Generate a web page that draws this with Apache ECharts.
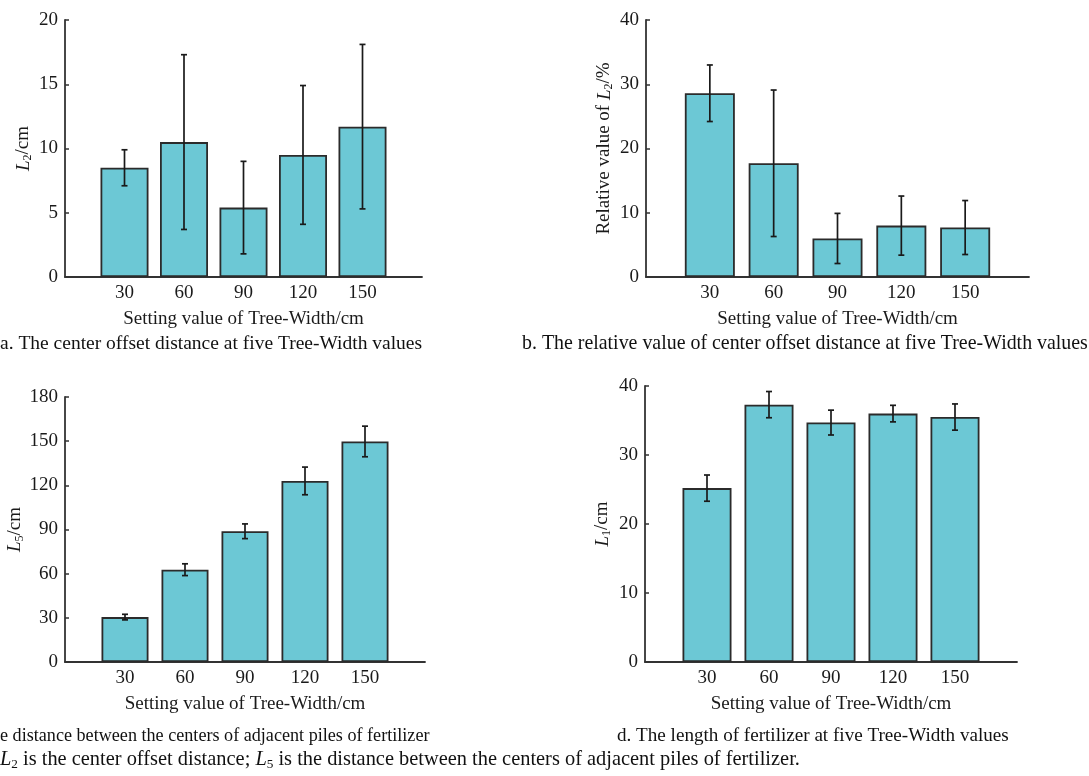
<!DOCTYPE html>
<html>
<head>
<meta charset="utf-8">
<script src="https://cdn.jsdelivr.net/npm/echarts@6/dist/echarts.min.js"></script>
<style>
  html, body { margin: 0; padding: 0; background: #fff; }
  #chart { width: 1089px; height: 776px; }
</style>
</head>
<body>
<div id="chart"></div>
<script>
// Tree-Width setting values (cm)
var treeWidth = [30, 60, 90, 120, 150]
// a. center offset distance L2 (cm)
var l2Mean = [8.5, 10.5, 5.4, 9.5, 11.7]
var l2Err = [1.4, 6.8, 3.6, 5.4, 6.4]
// b. relative value of L2 (%)
var relMean = [28.6, 17.7, 6.0, 8.0, 7.7]
var relErr = [4.4, 11.4, 3.9, 4.6, 4.2]
// c. distance between centers of adjacent piles L5 (cm)
var l5Mean = [30.5, 62.7, 88.8, 123, 149.8]
var l5Err = [1.9, 4.0, 5.0, 9.4, 10.4]
// d. length of fertilizer L1 (cm)
var l1Mean = [25.2, 37.3, 34.7, 36.0, 35.5]
var l1Err = [1.9, 1.9, 1.8, 1.2, 1.9]

var FONT = 'Liberation Serif'
var INK = '#1a1a1a'
var BAR = '#6cc8d5'

function barData (means) {
  return treeWidth.map(function (x, i) { return [x, means[i]] })
}
function errData (means, errs) {
  return treeWidth.map(function (x, i) { return [x, means[i] - errs[i], means[i] + errs[i]] })
}

function renderError (params, api) {
  var x = api.value(0)
  var lo = api.coord([x, api.value(1)])
  var hi = api.coord([x, api.value(2)])
  var hw = 3
  var st = { stroke: INK, lineWidth: 1.7 }
  return {
    type: 'group',
    children: [
      { type: 'line', shape: { x1: lo[0], y1: lo[1], x2: hi[0], y2: hi[1] }, style: st },
      { type: 'line', shape: { x1: hi[0] - hw, y1: hi[1], x2: hi[0] + hw, y2: hi[1] }, style: st },
      { type: 'line', shape: { x1: lo[0] - hw, y1: lo[1], x2: lo[0] + hw, y2: lo[1] }, style: st }
    ]
  }
}

function xAxisFor (idx) {
  return {
    gridIndex: idx,
    type: 'value',
    min: 0,
    max: 180,
    interval: 30,
    name: 'Setting value of Tree-Width/cm',
    nameLocation: 'middle',
    nameGap: 33,
    nameTextStyle: { fontFamily: FONT, fontSize: 19, color: INK },
    axisLine: { show: true, lineStyle: { color: '#333', width: 1.8 } },
    axisTick: { show: false },
    splitLine: { show: false },
    axisLabel: {
      showMinLabel: false,
      showMaxLabel: false,
      margin: 7,
      fontFamily: FONT,
      fontSize: 19,
      color: INK
    }
  }
}

function yAxisFor (idx, max, interval, name, gap) {
  return {
    gridIndex: idx,
    type: 'value',
    min: 0,
    max: max,
    interval: interval,
    name: name,
    nameLocation: 'middle',
    nameGap: gap,
    nameRotate: 90,
    nameTextStyle: {
      fontFamily: FONT,
      fontSize: 19,
      color: INK,
      rich: {
        t: { fontFamily: FONT, fontSize: 19, color: INK },
        it: { fontFamily: FONT, fontSize: 19, color: INK, fontStyle: 'italic' },
        sub: { fontFamily: FONT, fontSize: 12, color: INK, verticalAlign: 'bottom', padding: [9, 0, 0, 0] }
      }
    },
    axisLine: { show: true, lineStyle: { color: '#333', width: 1.8 } },
    axisTick: { show: true, inside: true, length: 4, lineStyle: { color: '#333', width: 1.5 } },
    splitLine: { show: false },
    axisLabel: { margin: 7, fontFamily: FONT, fontSize: 19, color: INK }
  }
}

function barSeries (idx, means, width) {
  return {
    type: 'bar',
    xAxisIndex: idx,
    yAxisIndex: idx,
    barWidth: width,
    data: barData(means),
    itemStyle: { color: BAR, borderColor: '#2b2b2b', borderWidth: 1.8 },
    silent: true
  }
}

function errSeries (idx, means, errs) {
  return {
    type: 'custom',
    xAxisIndex: idx,
    yAxisIndex: idx,
    renderItem: renderError,
    data: errData(means, errs),
    z: 5,
    silent: true
  }
}

function caption (x, y, text, size, sx) {
  return {
    type: 'text',
    left: x,
    top: y,
    scaleX: sx || 1,
    style: {
      text: text,
      fontFamily: FONT,
      fontSize: size,
      fill: '#111',
      rich: {
        it: { fontFamily: FONT, fontSize: size, fontStyle: 'italic', fill: '#111' },
        sub: { fontFamily: FONT, fontSize: size * 0.65, fill: '#111', verticalAlign: 'bottom', padding: [9, 0, 0, 0] }
      }
    }
  }
}

var myChart = echarts.init(document.getElementById('chart'))
var option = {
  backgroundColor: '#fff',
  animation: false,
  grid: [
    { left: 65, top: 20, width: 357, height: 257 },
    { left: 646, top: 20, width: 383, height: 257 },
    { left: 65, top: 397, width: 360, height: 265 },
    { left: 645, top: 386, width: 372, height: 276 }
  ],
  xAxis: [xAxisFor(0), xAxisFor(1), xAxisFor(2), xAxisFor(3)],
  yAxis: [
    yAxisFor(0, 20, 5, '{it|L}{sub|2}{t|/cm}', 31),
    yAxisFor(1, 40, 10, '{t|Relative value of }{it|L}{sub|2}{t|/%}', 31),
    yAxisFor(2, 180, 30, '{it|L}{sub|5}{t|/cm}', 39),
    yAxisFor(3, 40, 10, '{it|L}{sub|1}{t|/cm}', 32)
  ],
  series: [
    barSeries(0, l2Mean, 48),
    errSeries(0, l2Mean, l2Err),
    barSeries(1, relMean, 50),
    errSeries(1, relMean, relErr),
    barSeries(2, l5Mean, 47),
    errSeries(2, l5Mean, l5Err),
    barSeries(3, l1Mean, 49),
    errSeries(3, l1Mean, l1Err)
  ],
  graphic: [
    caption(0, 334, 'a. The center offset distance at five Tree-Width values', 19.5),
    caption(522, 334, 'b. The relative value of center offset distance at five Tree-Width values', 19.9),
    caption(0, 726, 'e distance between the centers of adjacent piles of fertilizer', 19.5, 0.93),
    caption(617, 726, 'd. The length of fertilizer at five Tree-Width values', 19.5, 0.98),
    caption(0, 750, '{it|L}{sub|2} is the center offset distance; {it|L}{sub|5} is the distance between the centers of adjacent piles of fertilizer.', 20.4)
  ]
}
myChart.setOption(option)
</script>
</body>
</html>
